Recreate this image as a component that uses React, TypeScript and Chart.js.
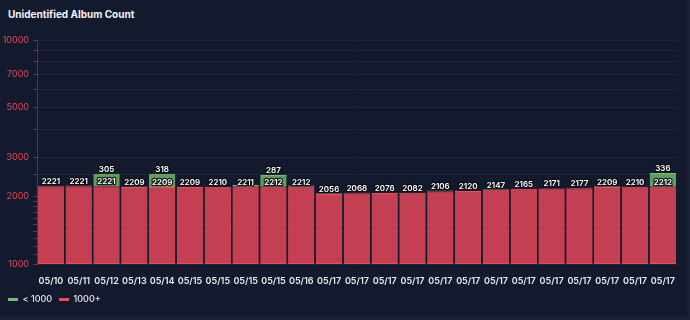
import { useEffect, useRef } from 'react';
import { Chart, registerables } from 'chart.js';

Chart.register(...registerables);

// Snapshot dates (one bar per scan)
const days = [
  '05/10', '05/11', '05/12', '05/13', '05/14', '05/15', '05/15', '05/15', '05/15', '05/16',
  '05/17', '05/17', '05/17', '05/17', '05/17', '05/17', '05/17', '05/17', '05/17', '05/17',
  '05/17', '05/17', '05/17',
];

// Albums in groups of 1000+ tracks vs. under 1000
const overThousand = [
  2221, 2221, 2221, 2209, 2209, 2209, 2210, 2211, 2212, 2212,
  2056, 2068, 2076, 2082, 2106, 2120, 2147, 2165, 2171, 2177,
  2209, 2210, 2212,
];
const underThousand = [
  15, 20, 305, 10, 318, 3, 2, 40, 287, 30,
  15, 10, 5, 5, 25, 3, 15, 5, 8, 10,
  15, 5, 336,
];

// Labelled ticks on the logarithmic axis
const yTickLabels = [1000, 2000, 3000, 5000, 7000, 10000];

const RED = '#F2495C';
const GREEN = '#73BF69';
const FONT = 'Inter, "Noto Sans", sans-serif';

// Value labels above each segment (small "< 1000" segments stay unlabelled)
const valueLabels = {
  id: 'valueLabels',
  afterDatasetsDraw(chart: any) {
    const ctx = chart.ctx as CanvasRenderingContext2D;
    ctx.save();
    ctx.font = `600 8px ${FONT}`;
    ctx.textAlign = 'center';
    ctx.textBaseline = 'bottom';
    ctx.lineJoin = 'round';
    chart.data.datasets.forEach((ds: any, di: number) => {
      const meta = chart.getDatasetMeta(di);
      if (meta.hidden) return;
      meta.data.forEach((bar: any, i: number) => {
        const v = ds.data[i] as number;
        if (di === 1 && v < 100) return;
        const text = String(v);
        const y = bar.y - 0.5;
        ctx.lineWidth = 2.5;
        ctx.strokeStyle = 'rgba(12,14,24,0.85)';
        ctx.strokeText(text, bar.x, y);
        ctx.fillStyle = '#ffffff';
        ctx.fillText(text, bar.x, y);
      });
    });
    ctx.restore();
  },
};

export default function App() {
  const canvasRef = useRef<HTMLCanvasElement | null>(null);

  useEffect(() => {
    if (!canvasRef.current) return;
    const chart = new Chart(canvasRef.current, {
      type: 'bar',
      data: {
        labels: days,
        datasets: [
          {
            label: '1000+',
            data: overThousand,
            backgroundColor: 'rgba(242,73,92,0.8)',
            borderColor: RED,
            borderWidth: { top: 1, bottom: 1, left: 0, right: 0 },
            borderSkipped: false,
            barPercentage: 0.95,
            categoryPercentage: 1,
          },
          {
            label: '< 1000',
            data: underThousand,
            backgroundColor: 'rgba(115,191,105,0.8)',
            borderColor: GREEN,
            borderWidth: { top: 1, bottom: 0, left: 0, right: 0 },
            borderSkipped: false,
            barPercentage: 0.95,
            categoryPercentage: 1,
          },
        ],
      },
      options: {
        animation: false,
        responsive: true,
        maintainAspectRatio: false,
        layout: { padding: { left: 1, right: 7, top: 40, bottom: 2 } },
        plugins: {
          title: { display: false },
          tooltip: { enabled: false },
          legend: {
            position: 'bottom',
            align: 'start',
            labels: {
              usePointStyle: true,
              pointStyle: 'line',
              pointStyleWidth: 10,
              padding: 7,
              color: '#e6e6ea',
              font: { size: 9, family: FONT, weight: 500 },
              sort: (a: any, b: any) => b.datasetIndex - a.datasetIndex,
              generateLabels: (c: any) =>
                c.data.datasets.map((ds: any, i: number) => ({
                  text: ds.label,
                  fillStyle: ds.borderColor,
                  strokeStyle: ds.borderColor,
                  lineWidth: 3,
                  pointStyle: 'line',
                  hidden: !c.isDatasetVisible(i),
                  datasetIndex: i,
                  fontColor: '#e6e6ea',
                })),
            },
          },
        },
        scales: {
          x: {
            stacked: true,
            grid: { display: false, drawTicks: false },
            border: { display: false },
            afterFit: (s: any) => {
              s.height = 24;
            },
            ticks: {
              color: '#ececf0',
              font: { size: 9, family: FONT, weight: 600 },
              padding: 12,
              autoSkip: false,
              maxRotation: 0,
            },
          },
          y: {
            type: 'logarithmic',
            stacked: true,
            min: 1000,
            max: 10000,
            afterFit: (s: any) => {
              s.width = 36;
            },
            ticks: {
              color: '#e8475c',
              font: { size: 9, family: FONT },
              padding: 4,
              autoSkip: false,
              callback: (v: any) => (yTickLabels.includes(Number(v)) ? String(v) : ''),
            },
            grid: {
              color: 'rgba(255,255,255,0.055)',
              tickColor: 'rgba(242,73,92,0.45)',
              tickLength: 4,
            },
            border: { color: 'rgba(242,73,92,0.4)' },
          },
        },
      },
      plugins: [valueLabels],
    });
    return () => chart.destroy();
  }, []);

  return (
    <div style={{ position: 'fixed', inset: 0, background: '#1b2135' }}>
      <div
        style={{
          position: 'absolute',
          left: 0,
          top: 0,
          width: 687,
          height: 316,
          background: '#131a2d',
          borderRadius: 3,
        }}
      >
        <div
          style={{
            position: 'absolute',
            left: 8,
            top: 7,
            color: '#f2f2f5',
            font: `700 10px ${FONT}`,
            lineHeight: '14px',
          }}
        >
          Unidentified Album Count
        </div>
        <div style={{ position: 'absolute', inset: 0 }}>
          <canvas ref={canvasRef} />
        </div>
      </div>
    </div>
  );
}
